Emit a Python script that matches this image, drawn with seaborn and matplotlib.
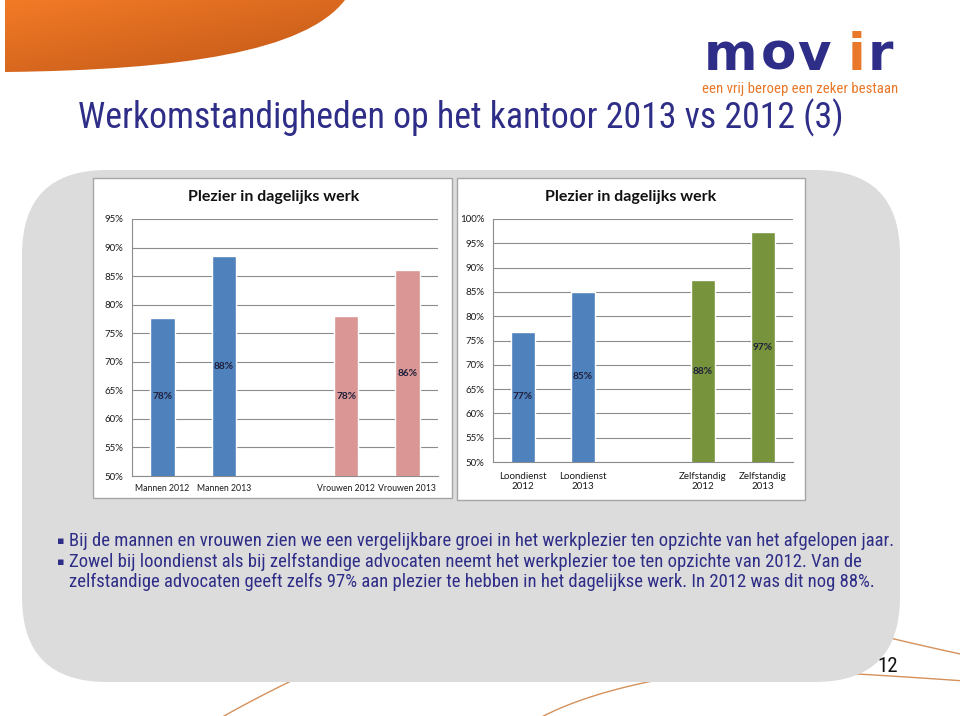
import numpy as np
import matplotlib
matplotlib.use("Agg")
import matplotlib.pyplot as plt
import seaborn as sns
from matplotlib import font_manager
from matplotlib.patches import FancyBboxPatch, Rectangle, PathPatch
from matplotlib.path import Path

sns.set_style("white")

names = {f.name for f in font_manager.fontManager.ttflist}
NARROW = next((n for n in ["Liberation Sans Narrow", "Noto Sans Condensed", "Roboto Condensed",
                           "DejaVu Sans Condensed", "Roboto"] if n in names), "DejaVu Sans")
CHART_FONT = "Lato" if "Lato" in names else "DejaVu Sans"
plt.rcParams["font.family"] = [CHART_FONT, "DejaVu Sans"]

# data
left_labels = ["Mannen 2012", "Mannen 2013", "Vrouwen 2012", "Vrouwen 2013"]
left_values = [77.7, 88.5, 78.0, 86.0]
left_text = ["78%", "88%", "78%", "86%"]
left_order = ["Mannen 2012", "Mannen 2013", "", "Vrouwen 2012", "Vrouwen 2013"]
left_ticks = list(range(50, 96, 5))

right_labels = ["Loondienst\n2012", "Loondienst\n2013", "Zelfstandig\n2012", "Zelfstandig\n2013"]
right_values = [76.8, 85.0, 87.4, 97.3]
right_text = ["77%", "85%", "88%", "97%"]
right_order = ["Loondienst\n2012", "Loondienst\n2013", "", "Zelfstandig\n2012", "Zelfstandig\n2013"]
right_ticks = list(range(50, 101, 5))

chart_title = "Plezier in dagelijks werk"
slide_title = "Werkomstandigheden op het kantoor 2013 vs 2012 (3)"
bullets = [
    "Bij de mannen en vrouwen zien we een vergelijkbare groei in het werkplezier ten opzichte van het afgelopen jaar.",
    "Zowel bij loondienst als bij zelfstandige advocaten neemt het werkplezier toe ten opzichte van 2012. Van de",
    "zelfstandige advocaten geeft zelfs 97% aan plezier te hebben in het dagelijkse werk. In 2012 was dit nog 88%.",
]

BLUE, PINK, GREEN = "#4F81BD", "#D99694", "#77933C"
NAVY = "#2E2D87"
ORANGE = "#E9782A"
GRID = "#8C8C8C"

fig = plt.figure(figsize=(9.6, 7.16), dpi=100)
bg = fig.add_axes([0, 0, 1, 1])
bg.set_xlim(0, 960)
bg.set_ylim(716, 0)
bg.axis("off")

# orange swoosh with gradient
verts = [(5, 0), (345, 0), (305, 52), (180, 70), (5, 72), (5, 0)]
codes = [Path.MOVETO, Path.LINETO, Path.CURVE4, Path.CURVE4, Path.CURVE4, Path.CLOSEPOLY]
swoosh = PathPatch(Path(verts, codes), fc="none", ec="none")
bg.add_patch(swoosh)
gx, gy = np.meshgrid(np.linspace(0, 1, 300), np.linspace(0, 1, 80))
t = np.clip(0.55 * gx + 0.6 * gy, 0, 1)[..., None]
c1 = np.array([0.95, 0.48, 0.15])
c2 = np.array([0.78, 0.36, 0.10])
img = bg.imshow(c1 * (1 - t) + c2 * t, extent=(5, 345, 72, 0), aspect="auto", zorder=1)
img.set_clip_path(swoosh)
bg.set_xlim(0, 960)
bg.set_ylim(716, 0)

# thin decorative lines at the bottom
line_col = "#D4915C"
for p0, p1, p2 in [((200, 730), (250, 700), (310, 672)),
                   ((520, 730), (580, 688), (720, 670)),
                   ((850, 628), (900, 641), (965, 655)),
                   ((820, 672), (880, 675), (965, 681))]:
    s = np.linspace(0, 1, 50)
    xs = (1 - s) ** 2 * p0[0] + 2 * (1 - s) * s * p1[0] + s ** 2 * p2[0]
    ys = (1 - s) ** 2 * p0[1] + 2 * (1 - s) * s * p1[1] + s ** 2 * p2[1]
    bg.plot(xs, ys, color=line_col, lw=1, zorder=1)

# gray rounded box
bg.add_patch(FancyBboxPatch((22, 170), 878, 512, boxstyle="round,pad=0,rounding_size=85",
                            fc="#DCDCDC", ec="none", zorder=2))
# chart panels
bg.add_patch(Rectangle((93, 178), 359, 320, fc="white", ec="#A6A6A6", lw=1, zorder=3))
bg.add_patch(Rectangle((457, 178), 348, 322, fc="white", ec="#A6A6A6", lw=1, zorder=3))

bg.text(274, 197, chart_title, ha="center", va="center", fontsize=11.5, weight="bold",
        color="#111111", zorder=4)
bg.text(631, 197, chart_title, ha="center", va="center", fontsize=11.5, weight="bold",
        color="#111111", zorder=4)

fit = []  # (text, target width in px)

# slide title
tt = bg.text(78, 118, slide_title, ha="left", va="center", fontsize=26, color=NAVY,
             family=[NARROW, "DejaVu Sans"])
fit.append((tt, 764))

# logo
for ch, x, col in [("m", 731, NAVY), ("o", 778, NAVY), ("v", 814, NAVY), ("i", 856, ORANGE), ("r", 880, NAVY)]:
    bg.text(x, 70, ch, ha="center", va="baseline", fontsize=37, weight="bold", color=col,
            family="DejaVu Sans")
tg = bg.text(800, 89, "een vrij beroep een zeker bestaan", ha="center", va="center", fontsize=9.5,
             color=ORANGE, family=[NARROW, "DejaVu Sans"])
fit.append((tg, 194))

# bullets
bl = []
for y, txt, mark in zip([541, 562, 582], bullets, [True, True, False]):
    if mark:
        bg.text(61, y, "\u25aa", ha="center", va="center", fontsize=8, color=NAVY, family="DejaVu Sans", zorder=4)
    bl.append(bg.text(69, y, txt, ha="left", va="center", fontsize=12, color=NAVY,
                      family=[NARROW, "DejaVu Sans"], zorder=4))

bg.text(888, 667, "12", ha="center", va="center", fontsize=15, color="#111111",
        family=[NARROW, "DejaVu Sans"], zorder=4)


def draw_chart(rect, labels, values, texts, order, colors, ticks, pad, xsize):
    ax = fig.add_axes(rect)
    sns.barplot(x=labels, y=values, order=order, hue=labels, palette=dict(zip(labels, colors)),
                width=0.4, saturation=1, legend=False, ax=ax, zorder=3)
    ax.set_facecolor("none")
    ax.set_ylim(ticks[0], ticks[-1])
    ax.set_yticks(ticks)
    ax.set_yticklabels([f"{v}%" for v in ticks])
    ax.set_xlim(-0.5, len(order) - 0.5)
    ax.yaxis.grid(True, color=GRID, lw=0.8)
    ax.set_axisbelow(True)
    for side in ["top", "right"]:
        ax.spines[side].set_visible(False)
    for side in ["left", "bottom"]:
        ax.spines[side].set_color(GRID)
        ax.spines[side].set_linewidth(0.8)
    ax.set_xticks(np.arange(len(order) + 1) - 0.5, minor=True)
    ax.tick_params(axis="x", which="major", length=0, pad=pad, labelsize=xsize, labelcolor="#1a1a1a")
    ax.tick_params(axis="x", which="minor", length=4, color=GRID, width=0.8, direction="out")
    ax.tick_params(axis="y", length=3, color=GRID, width=0.8, direction="out", pad=3,
                   labelsize=7, labelcolor="#1a1a1a")
    ax.set_xlabel("")
    ax.set_ylabel("")
    for lab, v, txt in zip(labels, values, texts):
        ax.text(order.index(lab), (ticks[0] + v) / 2, txt, ha="center", va="center",
                fontsize=7.3, weight="bold", color="#1F1F3A", zorder=4)
    return ax


draw_chart([132 / 960, 1 - 476 / 716, 306 / 960, 257 / 716], left_labels, left_values, left_text,
           left_order, [BLUE, BLUE, PINK, PINK], left_ticks, 6, 6.3)
draw_chart([493 / 960, 1 - 462 / 716, 300 / 960, 243 / 716], right_labels, right_values, right_text,
           right_order, [BLUE, BLUE, GREEN, GREEN], right_ticks, 7, 7)

# shrink the narrow-font texts so they span the same width as in the slide
fig.canvas.draw()
renderer = fig.canvas.get_renderer()
for txt, width in fit:
    w = txt.get_window_extent(renderer).width
    txt.set_fontsize(txt.get_fontsize() * width / w)
w0 = bl[0].get_window_extent(renderer).width
for b in bl:
    b.set_fontsize(b.get_fontsize() * 824 / w0)

fig.savefig("out.png", dpi=100)
